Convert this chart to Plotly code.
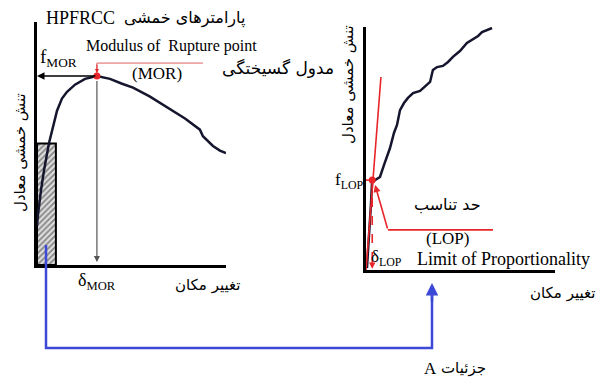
import plotly.graph_objects as go

W, H = 599, 378
SERIF = "Liberation Serif, Times New Roman, serif"
FA = "DejaVu Sans, Noto Sans, sans-serif"
INK = "#15152e"
RED = "#e8262a"
BLUE = "#3c48d6"

# ---- left panel: full flexural response of HPFRCC (normalised units) ----
mor_disp = [0.0, 0.05, 0.21, 0.37, 0.63, 0.85, 1.06, 1.32, 1.59, 2.01, 2.54, 3.17,
            3.86, 4.50, 5.08, 5.98, 6.88, 7.83, 8.62, 8.70, 8.78, 9.31, 9.68, 10.0]
mor_stress = [1.6, 2.05, 3.07, 3.89, 5.0, 5.74, 6.35, 6.85, 7.13, 7.42, 7.66, 7.78,
              7.66, 7.46, 7.30, 6.93, 6.48, 6.03, 5.57, 5.45, 5.30, 4.90, 4.71, 4.60]
mor_peak = (3.17, 7.78)
mor_leader_y = 8.31
mor_leader_end = 8.78
zone_a = (1.0, 5.0)  # width, height of detail A

# ---- right panel: detail A, initial part of the response ----
lop_disp = [0.05, 0.16, 0.26, 0.32, 0.53, 0.74, 0.95, 1.11, 1.27, 1.48, 1.64, 1.80,
            2.01, 2.22, 2.49, 2.86, 3.17, 3.39, 3.54, 3.76, 4.07, 4.34, 4.60, 4.97,
            5.34, 5.61, 5.93, 6.14, 6.40, 6.67]
lop_stress = [0.08, 1.23, 2.67, 3.62, 3.74, 3.83, 4.32, 4.65, 5.02, 5.64, 5.97, 6.58,
              6.87, 7.08, 7.28, 7.37, 7.57, 7.74, 8.23, 8.35, 8.40, 8.56, 8.77, 9.01,
              9.34, 9.47, 9.63, 9.79, 9.88, 9.96]
lop_point = (0.33, 3.70)
tangent_disp = [0.0, 0.79]
tangent_stress = [0.0, 7.94]
lop_callout_y = 1.65
lop_callout_x = (1.16, 6.72)
lop_callout_tip = (0.48, 3.50)

fig = go.Figure()

# detail A zone (hatched)
fig.add_trace(go.Scatter(
    x=[0, zone_a[0], zone_a[0], 0, 0], y=[0, 0, zone_a[1], zone_a[1], 0],
    mode="lines", fill="toself", fillcolor="#d0d0d0",
    fillpattern=dict(shape="/", fgcolor="#2a2a2a", bgcolor="#dedede", size=4, solidity=0.45),
    line=dict(color="black", width=2), xaxis="x", yaxis="y", hoverinfo="skip"))

# full curve
fig.add_trace(go.Scatter(x=mor_disp, y=mor_stress, mode="lines",
                         line=dict(color=INK, width=2.5), xaxis="x", yaxis="y"))

# red leader to MOR point
fig.add_trace(go.Scatter(x=[mor_peak[0], mor_peak[0], mor_leader_end],
                         y=[mor_peak[1], mor_leader_y, mor_leader_y], mode="lines",
                         line=dict(color="#e06060", width=1), xaxis="x", yaxis="y"))
fig.add_trace(go.Scatter(x=[mor_peak[0]], y=[mor_peak[1]], mode="markers",
                         marker=dict(color=RED, size=7), xaxis="x", yaxis="y"))

# right panel curve
fig.add_trace(go.Scatter(x=lop_disp, y=lop_stress, mode="lines",
                         line=dict(color=INK, width=2.5), xaxis="x2", yaxis="y2"))
# initial tangent
fig.add_trace(go.Scatter(x=tangent_disp, y=tangent_stress, mode="lines",
                         line=dict(color=RED, width=1.6), xaxis="x2", yaxis="y2"))
# LOP projections
fig.add_trace(go.Scatter(x=[0, lop_point[0]], y=[lop_point[1], lop_point[1]], mode="lines",
                         line=dict(color=RED, width=1.6), xaxis="x2", yaxis="y2"))
fig.add_trace(go.Scatter(x=[lop_point[0], lop_point[0]], y=[lop_point[1], 0.5], mode="lines",
                         line=dict(color=RED, width=1.6, dash="dash"), xaxis="x2", yaxis="y2"))
fig.add_trace(go.Scatter(x=[lop_callout_x[1], lop_callout_x[0]], y=[lop_callout_y, lop_callout_y],
                         mode="lines", line=dict(color=RED, width=1.6), xaxis="x2", yaxis="y2"))
fig.add_trace(go.Scatter(x=[lop_point[0]], y=[lop_point[1]], mode="markers",
                         marker=dict(color=RED, size=7), xaxis="x2", yaxis="y2"))


def arrow(tip, tail, color, width, xr="x", yr="y", head=2, size=1.0):
    fig.add_annotation(x=tip[0], y=tip[1], ax=tail[0], ay=tail[1], xref=xr, yref=yr,
                       axref=xr, ayref=yr, text="", showarrow=True, arrowhead=head,
                       arrowsize=size, arrowwidth=width, arrowcolor=color, standoff=0)


# f_MOR projection and delta_MOR projection
arrow((0.0, mor_peak[1]), (mor_peak[0], mor_peak[1]), "black", 1.5)
arrow((mor_peak[0], 0.12), (mor_peak[0], mor_peak[1] - 0.15), "#555555", 1.2)
arrow((mor_peak[0], mor_peak[1] + 0.12), (mor_peak[0], mor_leader_y), RED, 1.0, size=0.8)
# delta_LOP and callout arrows
arrow((lop_point[0], 0.05), (lop_point[0], 0.6), RED, 1.6, "x2", "y2", size=0.8)
arrow(lop_callout_tip, (lop_callout_x[0], lop_callout_y), RED, 1.6, "x2", "y2", size=0.9)


def label(text, x, y, size, family=SERIF, angle=0, xanchor="center"):
    fig.add_annotation(x=x / W, y=1 - y / H, xref="paper", yref="paper", text=text,
                       showarrow=False, textangle=angle, xanchor=xanchor, yanchor="middle",
                       font=dict(size=size, family=family, color="black"))


label("HPFRCC", 80, 18, 18)
label("پارامترهای خمشی", 184, 18, 16, FA)
label("Modulus of  Rupture point", 171, 46, 16)
label("(MOR)", 157, 73, 17)
label("مدول گسیختگی", 278, 68, 17, FA)
label("f<sub>MOR</sub>", 38, 58, 19, xanchor="left")
label("δ<sub>MOR</sub>", 76, 281, 18, xanchor="left")
label("تغییر مکان", 207, 285, 15, FA)
label("تنش خمشی معادل", 20, 153, 15, FA, angle=-90)
label("تنش خمشی معادل", 348, 85, 15, FA, angle=-90)
label("f<sub>LOP</sub>", 366, 181, 17, xanchor="right")
label("δ<sub>LOP</sub>", 369, 258, 17, xanchor="left")
label("حد تناسب", 447, 204, 16, FA)
label("(LOP)", 447, 238, 17)
label("Limit of Proportionality", 503, 259, 18)
label("تغییر مکان", 562, 293, 15, FA)
label("A", 430, 368, 17)
label("جزئیات", 463, 368, 15, FA)

# connector from detail A to the enlarged view
fig.add_shape(type="path", xref="paper", yref="paper",
              path=f"M {46 / W},{1 - 245 / H} L {46 / W},{1 - 348 / H} L {432 / W},{1 - 348 / H} L {432 / W},{1 - 290 / H}",
              line=dict(color=BLUE, width=2.5))
fig.add_annotation(x=432 / W, y=1 - 283 / H, ax=0, ay=20, xref="paper", yref="paper",
                   text="", showarrow=True, arrowhead=2,
                   arrowsize=1.0, arrowwidth=2.5, arrowcolor=BLUE, standoff=0)

axis_common = dict(range=[0, 10], showline=True, linecolor="black", linewidth=3,
                   showgrid=False, zeroline=False, showticklabels=False, ticks="")

fig.update_layout(
    width=W, height=H, margin=dict(l=0, r=0, t=0, b=0),
    paper_bgcolor="white", plot_bgcolor="rgba(0,0,0,0)", showlegend=False,
    xaxis=dict(domain=[37 / W, 226 / W], anchor="y", **axis_common),
    yaxis=dict(domain=[1 - 265 / H, 1 - 22 / H], anchor="x", **axis_common),
    xaxis2=dict(domain=[366 / W, 555 / W], anchor="y2", **axis_common),
    yaxis2=dict(domain=[1 - 270 / H, 1 - 27 / H], anchor="x2", **axis_common),
)

fig.write_html("out.html")
